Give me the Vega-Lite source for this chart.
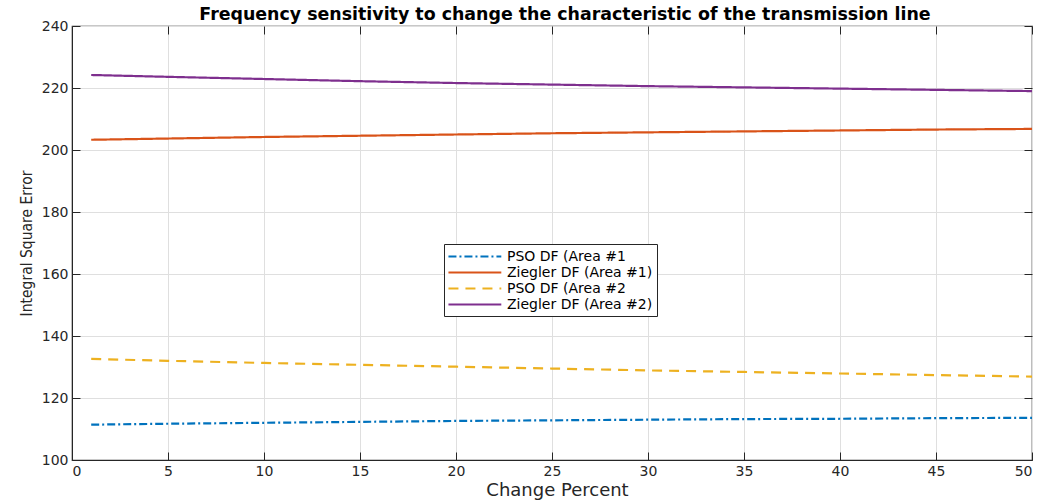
{
  "$schema": "https://vega.github.io/schema/vega-lite/v6.json",
  "width": 960,
  "height": 434,
  "autosize": {"type": "none"},
  "padding": {"left": 72, "top": 26, "right": 13, "bottom": 43},
  "background": "white",
  "title": {
    "text": "Frequency sensitivity to change the characteristic of the transmission line",
    "font": "DejaVu Sans",
    "fontSize": 17.4,
    "fontWeight": "bold",
    "color": "black",
    "anchor": "middle",
    "dx": 13,
    "offset": -4
  },
  "config": {
    "view": {"stroke": "#262626", "strokeWidth": 1.2},
    "font": "DejaVu Sans"
  },
  "data": {
    "values": [
      {"x": 1, "y": 111.4, "s": "PSO DF (Area #1"},
      {"x": 5, "y": 111.7, "s": "PSO DF (Area #1"},
      {"x": 10, "y": 112.0, "s": "PSO DF (Area #1"},
      {"x": 15, "y": 112.3, "s": "PSO DF (Area #1"},
      {"x": 20, "y": 112.6, "s": "PSO DF (Area #1"},
      {"x": 25, "y": 112.8, "s": "PSO DF (Area #1"},
      {"x": 30, "y": 113.0, "s": "PSO DF (Area #1"},
      {"x": 35, "y": 113.2, "s": "PSO DF (Area #1"},
      {"x": 40, "y": 113.3, "s": "PSO DF (Area #1"},
      {"x": 45, "y": 113.5, "s": "PSO DF (Area #1"},
      {"x": 50, "y": 113.6, "s": "PSO DF (Area #1"},
      {"x": 1, "y": 203.3, "s": "Ziegler DF (Area #1)"},
      {"x": 5, "y": 203.7, "s": "Ziegler DF (Area #1)"},
      {"x": 10, "y": 204.2, "s": "Ziegler DF (Area #1)"},
      {"x": 15, "y": 204.6, "s": "Ziegler DF (Area #1)"},
      {"x": 20, "y": 205.0, "s": "Ziegler DF (Area #1)"},
      {"x": 25, "y": 205.4, "s": "Ziegler DF (Area #1)"},
      {"x": 30, "y": 205.7, "s": "Ziegler DF (Area #1)"},
      {"x": 35, "y": 206.0, "s": "Ziegler DF (Area #1)"},
      {"x": 40, "y": 206.3, "s": "Ziegler DF (Area #1)"},
      {"x": 45, "y": 206.6, "s": "Ziegler DF (Area #1)"},
      {"x": 50, "y": 206.8, "s": "Ziegler DF (Area #1)"},
      {"x": 1, "y": 132.6, "s": "PSO DF (Area #2"},
      {"x": 5, "y": 132.0, "s": "PSO DF (Area #2"},
      {"x": 10, "y": 131.3, "s": "PSO DF (Area #2"},
      {"x": 15, "y": 130.7, "s": "PSO DF (Area #2"},
      {"x": 20, "y": 130.1, "s": "PSO DF (Area #2"},
      {"x": 25, "y": 129.5, "s": "PSO DF (Area #2"},
      {"x": 30, "y": 128.9, "s": "PSO DF (Area #2"},
      {"x": 35, "y": 128.4, "s": "PSO DF (Area #2"},
      {"x": 40, "y": 127.9, "s": "PSO DF (Area #2"},
      {"x": 45, "y": 127.4, "s": "PSO DF (Area #2"},
      {"x": 50, "y": 126.9, "s": "PSO DF (Area #2"},
      {"x": 1, "y": 224.2, "s": "Ziegler DF (Area #2)"},
      {"x": 5, "y": 223.6, "s": "Ziegler DF (Area #2)"},
      {"x": 10, "y": 222.9, "s": "Ziegler DF (Area #2)"},
      {"x": 15, "y": 222.2, "s": "Ziegler DF (Area #2)"},
      {"x": 20, "y": 221.6, "s": "Ziegler DF (Area #2)"},
      {"x": 25, "y": 221.1, "s": "Ziegler DF (Area #2)"},
      {"x": 30, "y": 220.6, "s": "Ziegler DF (Area #2)"},
      {"x": 35, "y": 220.2, "s": "Ziegler DF (Area #2)"},
      {"x": 40, "y": 219.8, "s": "Ziegler DF (Area #2)"},
      {"x": 45, "y": 219.4, "s": "Ziegler DF (Area #2)"},
      {"x": 50, "y": 219.0, "s": "Ziegler DF (Area #2)"}
    ]
  },
  "resolve": {"axis": {"x": "independent", "y": "independent"}},
  "layer": [
    {
      "mark": {"type": "line", "strokeWidth": 2.2},
      "encoding": {
        "x": {
          "field": "x", "type": "quantitative",
          "scale": {"domain": [0, 50], "nice": false, "zero": false},
          "axis": {
            "title": "Change Percent", "titleFont": "DejaVu Sans", "titleFontSize": 18, "titleFontWeight": "normal", "titleColor": "#262626", "titlePadding": 3, "titleX": 485,
            "values": [0, 5, 10, 15, 20, 25, 30, 35, 40, 45, 50],
            "labelFont": "DejaVu Sans", "labelFontSize": 14, "labelColor": "#262626", "labelPadding": 12,
            "tickSize": -8, "tickColor": "#262626", "domainColor": "#262626",
            "grid": true, "gridColor": "#dfdfdf", "gridWidth": 1
          }
        },
        "y": {
          "field": "y", "type": "quantitative",
          "scale": {"domain": [100, 240], "nice": false, "zero": false},
          "axis": {
            "title": "Integral Square Error", "titleFont": "DejaVu Sans Condensed, Liberation Sans", "titleFontSize": 15.5, "titleFontWeight": "normal", "titleColor": "#262626", "titlePadding": 7,
            "values": [100, 120, 140, 160, 180, 200, 220, 240],
            "labelFont": "DejaVu Sans", "labelFontSize": 14, "labelColor": "#262626", "labelPadding": 12,
            "tickSize": -8, "tickColor": "#262626", "domainColor": "#262626",
            "grid": true, "gridColor": "#dfdfdf", "gridWidth": 1
          }
        },
        "color": {
          "field": "s", "type": "nominal",
          "scale": {
            "domain": ["PSO DF (Area #1", "Ziegler DF (Area #1)", "PSO DF (Area #2", "Ziegler DF (Area #2)"],
            "range": ["#0072BD", "#D95319", "#EDB120", "#7E2F8E"]
          },
          "legend": {
            "title": null,
            "orient": "none",
            "legendX": 372,
            "legendY": 218,
            "direction": "vertical",
            "symbolType": "M-1.15,0H6.4",
            "symbolSize": 196,
            "symbolStrokeWidth": 2.2,
            "labelFont": "DejaVu Sans",
            "labelFontSize": 14,
            "labelColor": "black",
            "labelOffset": 42,
            "rowPadding": 0,
            "padding": 4,
            "strokeColor": "#262626",
            "fillColor": "white",
            "labelLimit": 300
          }
        },
        "strokeDash": {
          "field": "s", "type": "nominal",
          "scale": {
            "domain": ["PSO DF (Area #1", "Ziegler DF (Area #1)", "PSO DF (Area #2", "Ziegler DF (Area #2)"],
            "range": [[8, 3, 2, 3], [1, 0], [10, 7], [1, 0]]
          },
          "legend": {
            "title": null,
            "orient": "none",
            "legendX": 372,
            "legendY": 218,
            "direction": "vertical",
            "symbolType": "M-1.15,0H6.4",
            "symbolSize": 196,
            "symbolStrokeWidth": 2.2,
            "labelFont": "DejaVu Sans",
            "labelFontSize": 14,
            "labelColor": "black",
            "labelOffset": 42,
            "rowPadding": 0,
            "padding": 4,
            "strokeColor": "#262626",
            "fillColor": "white",
            "labelLimit": 300
          }
        }
      }
    },
    {
      "mark": {"type": "rule", "opacity": 0},
      "encoding": {
        "x": {
          "field": "x", "type": "quantitative",
          "axis": {"orient": "top", "title": null, "labels": false, "grid": false, "domain": false, "values": [0, 5, 10, 15, 20, 25, 30, 35, 40, 45, 50], "tickSize": -8, "tickColor": "#262626"}
        },
        "y": {
          "field": "y", "type": "quantitative",
          "axis": {"orient": "right", "title": null, "labels": false, "grid": false, "domain": false, "values": [100, 120, 140, 160, 180, 200, 220, 240], "tickSize": -8, "tickColor": "#262626"}
        }
      }
    }
  ]
}
